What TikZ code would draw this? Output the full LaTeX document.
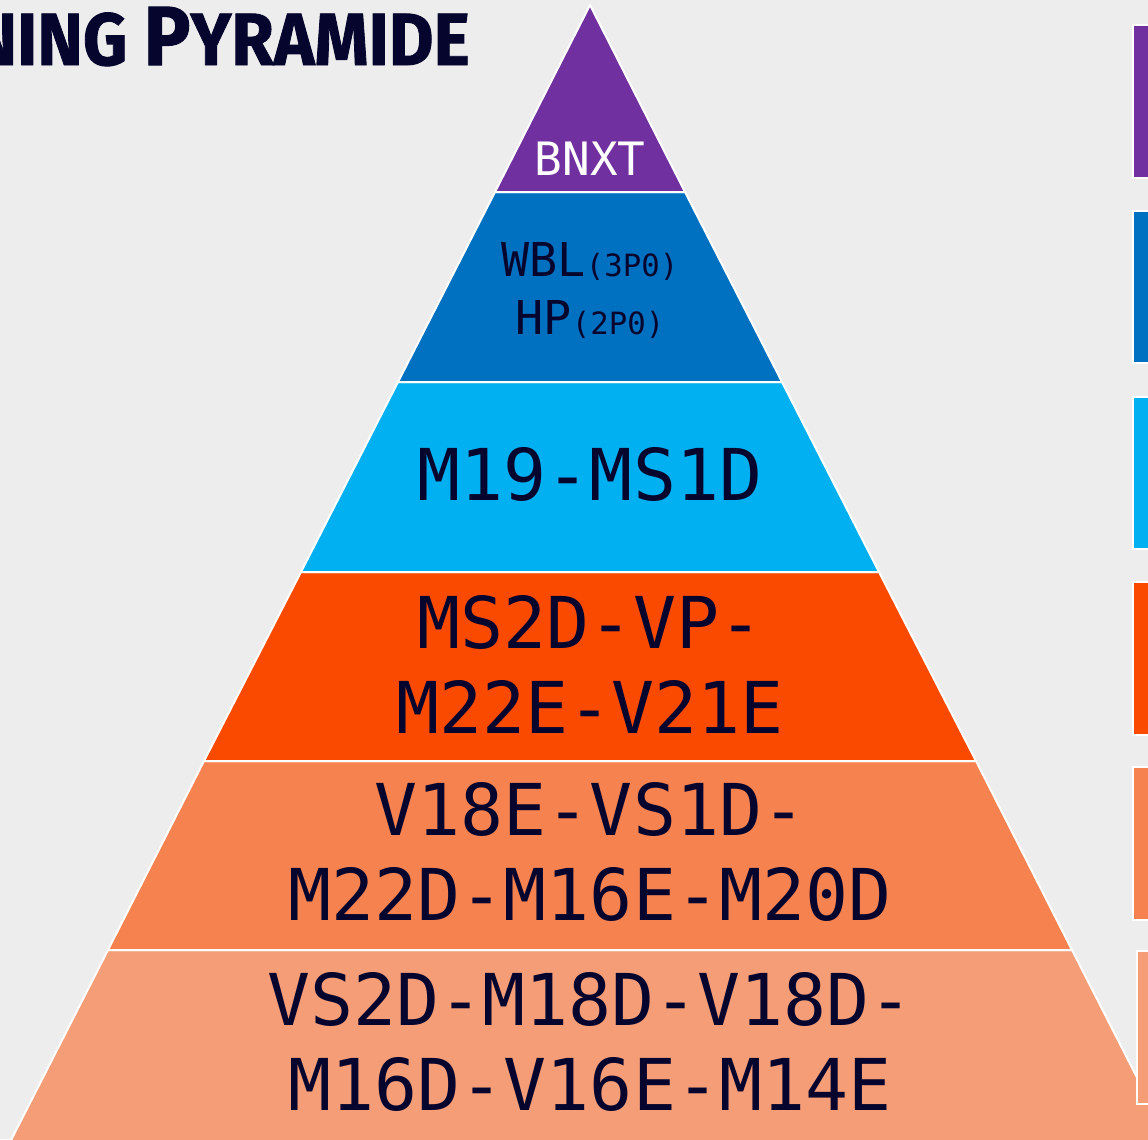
\documentclass[tikz,border=0pt]{standalone}
\usepackage{fontspec}
\newfontfamily\monofont{DejaVu Sans Mono}
\newfontfamily\titlefont{Fira Sans}[BoldFeatures={FakeBold=1.2}]
\definecolor{bgc}{HTML}{EDEDED}
\definecolor{navy}{HTML}{06052E}
\definecolor{cpurple}{HTML}{7030A0}
\definecolor{cblue}{HTML}{0070C0}
\definecolor{clight}{HTML}{00B0F0}
\definecolor{cred}{HTML}{FA4A00}
\definecolor{corange}{HTML}{F5824F}
\definecolor{csalmon}{HTML}{F49D77}
\tikzset{
  band/.style={draw=white, line width=1.5pt, line join=round},
  legbar/.style={draw=white, line width=1.5pt},
  big/.style={anchor=base, text=navy, inner sep=0pt, font=\monofont\fontsize{53.6}{60}\selectfont},
  mid/.style={anchor=base, text=navy, inner sep=0pt, font=\monofont\fontsize{35}{40}\selectfont},
}
\newcommand{\smallpar}[1]{{\fontsize{23}{26}\selectfont #1}}
\begin{document}
\begin{tikzpicture}[x=0.75pt,y=-0.75pt]
\useasboundingbox (0,0) rectangle (1148,1139);
\clip (0,0) rectangle (1148,1139);
\fill[bgc] (0,0) rectangle (1148,1139);
% pyramid bands: left x = 590 - 0.5097*(y-5)
\path[band, fill=csalmon] (108,950) -- (1072,950) -- (1200,1201) -- (-20,1201) -- cycle;
\path[band, fill=corange] (204,761) -- (976,761) -- (1072,950) -- (108,950) -- cycle;
\path[band, fill=cred] (301,572) -- (879,572) -- (976,761) -- (204,761) -- cycle;
\path[band, fill=clight] (398,382) -- (782,382) -- (879,572) -- (301,572) -- cycle;
\path[band, fill=cblue] (495,192) -- (685,192) -- (782,382) -- (398,382) -- cycle;
\path[band, fill=cpurple] (590,5) -- (685,192) -- (495,192) -- cycle;
% legend bars
\path[legbar, fill=cpurple] (1133,25) rectangle (1170,178);
\path[legbar, fill=cblue] (1133,211) rectangle (1170,363);
\path[legbar, fill=clight] (1133,397) rectangle (1170,549);
\path[legbar, fill=cred] (1133,582) rectangle (1170,735);
\path[legbar, fill=corange] (1133,767) rectangle (1170,920);
\path[legbar, fill=csalmon] (1137,951) rectangle (1170,1104);
% title
\node[anchor=base east, inner sep=0pt, text=navy] (title) at (470,65)
  {\scalebox{0.93}[1]{\titlefont\bfseries\fontsize{55.5}{60}\selectfont
   {\fontsize{63}{63}\selectfont T}RAINING {\fontsize{63}{63}\selectfont P}YRAMIDE}};
% texts
\node[anchor=base, inner sep=0pt, text=white, font=\monofont\fontsize{34.5}{40}\selectfont] (t1) at (590,175) {BNXT};
\node[mid] (t2a) at (590,276) {WBL\smallpar{(3P0)}};
\node[mid] (t2b) at (590,334) {HP\smallpar{(2P0)}};
\node[big] (t3) at (590,500) {M19-MS1D};
\node[big] (t4a) at (590,648) {MS2D-VP-};
\node[big] (t4b) at (590,733) {M22E-V21E};
\node[big] (t5a) at (590,835) {V18E-VS1D-};
\node[big] (t5b) at (590,920) {M22D-M16E-M20D};
\node[big] (t6a) at (590,1025) {VS2D-M18D-V18D-};
\node[big] (t6b) at (590,1110) {M16D-V16E-M14E};
\end{tikzpicture}
\end{document}
